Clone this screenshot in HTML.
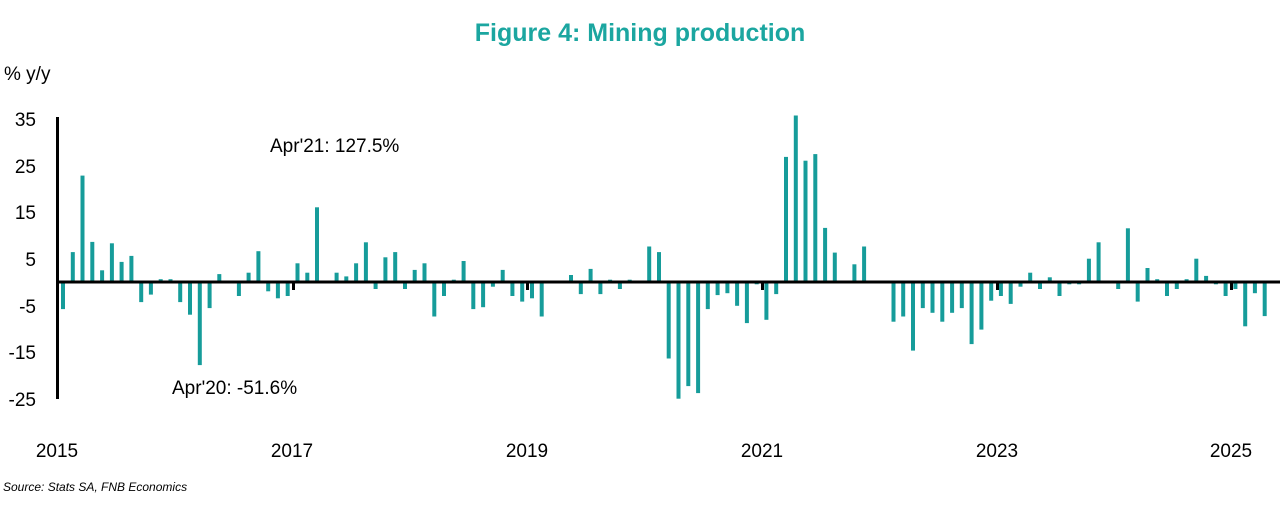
<!DOCTYPE html>
<html><head><meta charset="utf-8"><style>
html,body{margin:0;padding:0;background:#fff;width:1280px;height:520px;overflow:hidden}
svg{display:block;font-family:"Liberation Sans",sans-serif}
</style></head><body>
<svg width="1280" height="520" xmlns="http://www.w3.org/2000/svg">
<text x="640" y="41" text-anchor="middle" font-size="25" font-weight="bold" fill="#1ba6a0">Figure 4: Mining production</text>
<text x="4" y="80" font-size="19" fill="#000">% y/y</text>
<g font-size="19" fill="#000" text-anchor="end">
<text x="36" y="126">35</text><text x="36" y="173">25</text><text x="36" y="219">15</text>
<text x="36" y="266">5</text><text x="36" y="313">-5</text><text x="36" y="359">-15</text><text x="36" y="406">-25</text>
</g>
<g font-size="19" fill="#000" text-anchor="middle">
<text x="57" y="457">2015</text><text x="292" y="457">2017</text><text x="527" y="457">2019</text>
<text x="762" y="457">2021</text><text x="997" y="457">2023</text><text x="1231" y="457">2025</text>
</g>
<text x="270" y="152" font-size="19" fill="#000">Apr'21: 127.5%</text>
<text x="172" y="394" font-size="19" fill="#000">Apr'20: -51.6%</text>
<text x="3" y="491" font-size="12" font-style="italic" fill="#000">Source: Stats SA, FNB Economics</text>
<g fill="#169c9a">
<rect x="61.0" y="282" width="4" height="27.1"/>
<rect x="70.8" y="252.1" width="4" height="29.9"/>
<rect x="80.5" y="175.6" width="4" height="106.4"/>
<rect x="90.3" y="241.9" width="4" height="40.1"/>
<rect x="100.1" y="270.3" width="4" height="11.7"/>
<rect x="109.9" y="243.3" width="4" height="38.7"/>
<rect x="119.6" y="261.9" width="4" height="20.1"/>
<rect x="129.4" y="255.9" width="4" height="26.1"/>
<rect x="139.2" y="282" width="4" height="20.1"/>
<rect x="148.9" y="282" width="4" height="12.6"/>
<rect x="158.7" y="279.2" width="4" height="2.8"/>
<rect x="168.5" y="279.2" width="4" height="2.8"/>
<rect x="178.2" y="282" width="4" height="20.1"/>
<rect x="188.0" y="282" width="4" height="32.7"/>
<rect x="197.8" y="282" width="4" height="83.1"/>
<rect x="207.6" y="282" width="4" height="26.1"/>
<rect x="217.3" y="274.1" width="4" height="7.9"/>
<rect x="236.9" y="282" width="4" height="14"/>
<rect x="246.6" y="272.7" width="4" height="9.3"/>
<rect x="256.4" y="251.2" width="4" height="30.8"/>
<rect x="266.2" y="282" width="4" height="9.3"/>
<rect x="275.9" y="282" width="4" height="16.3"/>
<rect x="285.7" y="282" width="4" height="14"/>
<rect x="295.5" y="263.3" width="4" height="18.7"/>
<rect x="305.3" y="272.7" width="4" height="9.3"/>
<rect x="315.0" y="207.3" width="4" height="74.7"/>
<rect x="334.6" y="272.7" width="4" height="9.3"/>
<rect x="344.3" y="276.4" width="4" height="5.6"/>
<rect x="354.1" y="263.3" width="4" height="18.7"/>
<rect x="363.9" y="242.3" width="4" height="39.7"/>
<rect x="373.6" y="282" width="4" height="7"/>
<rect x="383.4" y="257.3" width="4" height="24.7"/>
<rect x="393.2" y="252.1" width="4" height="29.9"/>
<rect x="403.0" y="282" width="4" height="7"/>
<rect x="412.7" y="269.9" width="4" height="12.1"/>
<rect x="422.5" y="263.3" width="4" height="18.7"/>
<rect x="432.3" y="282" width="4" height="34.5"/>
<rect x="442.0" y="282" width="4" height="14"/>
<rect x="451.8" y="279.7" width="4" height="2.3"/>
<rect x="461.6" y="261.0" width="4" height="21"/>
<rect x="471.3" y="282" width="4" height="27.1"/>
<rect x="481.1" y="282" width="4" height="25.2"/>
<rect x="490.9" y="282" width="4" height="4.7"/>
<rect x="500.7" y="269.9" width="4" height="12.1"/>
<rect x="510.4" y="282" width="4" height="14"/>
<rect x="520.2" y="282" width="4" height="19.6"/>
<rect x="530.0" y="282" width="4" height="16.3"/>
<rect x="539.7" y="282" width="4" height="34.5"/>
<rect x="569.0" y="275.0" width="4" height="7"/>
<rect x="578.8" y="282" width="4" height="12.1"/>
<rect x="588.6" y="268.9" width="4" height="13.1"/>
<rect x="598.4" y="282" width="4" height="12.1"/>
<rect x="608.1" y="279.7" width="4" height="2.3"/>
<rect x="617.9" y="282" width="4" height="7"/>
<rect x="627.7" y="279.7" width="4" height="2.3"/>
<rect x="647.2" y="246.5" width="4" height="35.5"/>
<rect x="657.0" y="252.1" width="4" height="29.9"/>
<rect x="666.7" y="282" width="4" height="76.5"/>
<rect x="676.5" y="282" width="4" height="116.7"/>
<rect x="686.3" y="282" width="4" height="104.1"/>
<rect x="696.1" y="282" width="4" height="111.1"/>
<rect x="705.8" y="282" width="4" height="27.1"/>
<rect x="715.6" y="282" width="4" height="13.1"/>
<rect x="725.4" y="282" width="4" height="11.2"/>
<rect x="735.1" y="282" width="4" height="23.8"/>
<rect x="744.9" y="282" width="4" height="41.1"/>
<rect x="754.7" y="282" width="4" height="2.3"/>
<rect x="764.4" y="282" width="4" height="37.8"/>
<rect x="774.2" y="282" width="4" height="12.1"/>
<rect x="784.0" y="156.9" width="4" height="125.1"/>
<rect x="793.8" y="115.5" width="4" height="166.5"/>
<rect x="803.5" y="160.7" width="4" height="121.3"/>
<rect x="813.3" y="154.1" width="4" height="127.9"/>
<rect x="823.1" y="227.9" width="4" height="54.1"/>
<rect x="832.8" y="252.6" width="4" height="29.4"/>
<rect x="852.4" y="264.3" width="4" height="17.7"/>
<rect x="862.1" y="246.5" width="4" height="35.5"/>
<rect x="891.5" y="282" width="4" height="39.7"/>
<rect x="901.2" y="282" width="4" height="34.5"/>
<rect x="911.0" y="282" width="4" height="68.6"/>
<rect x="920.8" y="282" width="4" height="26.1"/>
<rect x="930.5" y="282" width="4" height="30.8"/>
<rect x="940.3" y="282" width="4" height="39.7"/>
<rect x="950.1" y="282" width="4" height="30.8"/>
<rect x="959.8" y="282" width="4" height="26.1"/>
<rect x="969.6" y="282" width="4" height="62.1"/>
<rect x="979.4" y="282" width="4" height="47.6"/>
<rect x="989.2" y="282" width="4" height="18.7"/>
<rect x="998.9" y="282" width="4" height="14"/>
<rect x="1008.7" y="282" width="4" height="21.9"/>
<rect x="1018.5" y="282" width="4" height="4.7"/>
<rect x="1028.2" y="272.7" width="4" height="9.3"/>
<rect x="1038.0" y="282" width="4" height="7"/>
<rect x="1047.8" y="277.3" width="4" height="4.7"/>
<rect x="1057.5" y="282" width="4" height="14"/>
<rect x="1067.3" y="282" width="4" height="2.3"/>
<rect x="1077.1" y="282" width="4" height="2.3"/>
<rect x="1086.9" y="258.7" width="4" height="23.3"/>
<rect x="1096.6" y="242.3" width="4" height="39.7"/>
<rect x="1116.2" y="282" width="4" height="7"/>
<rect x="1125.9" y="228.3" width="4" height="53.7"/>
<rect x="1135.7" y="282" width="4" height="19.6"/>
<rect x="1145.5" y="268.0" width="4" height="14"/>
<rect x="1155.2" y="279.2" width="4" height="2.8"/>
<rect x="1165.0" y="282" width="4" height="14"/>
<rect x="1174.8" y="282" width="4" height="7"/>
<rect x="1184.6" y="279.2" width="4" height="2.8"/>
<rect x="1194.3" y="258.7" width="4" height="23.3"/>
<rect x="1204.1" y="275.9" width="4" height="6.1"/>
<rect x="1213.9" y="282" width="4" height="2.3"/>
<rect x="1223.6" y="282" width="4" height="14"/>
<rect x="1233.4" y="282" width="4" height="7"/>
<rect x="1243.2" y="282" width="4" height="44.3"/>
<rect x="1252.9" y="282" width="4" height="11.2"/>
<rect x="1262.7" y="282" width="4" height="34.1"/>
</g>
<g fill="#000">
<rect x="292" y="282" width="3" height="8"/><rect x="526" y="282" width="3" height="8"/>
<rect x="761" y="282" width="3" height="8"/><rect x="996" y="282" width="3" height="8"/>
<rect x="1230" y="282" width="3" height="8"/>
</g>
<rect x="56" y="117" width="3" height="282" fill="#000"/>
<rect x="56" y="280.5" width="1224" height="3" fill="#000"/>
</svg>
</body></html>
